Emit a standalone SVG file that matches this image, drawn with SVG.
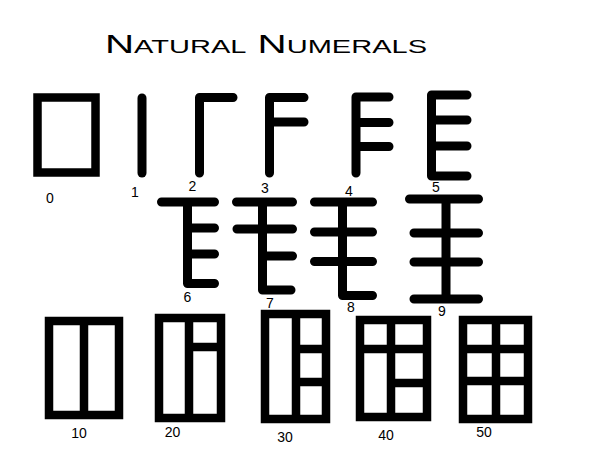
<svg xmlns="http://www.w3.org/2000/svg" width="591" height="453" viewBox="0 0 591 453">
<style>
.g{fill:none;stroke:#000;stroke-width:9;stroke-linecap:round;stroke-linejoin:round}
.b{fill:none;stroke:#000;stroke-width:8.5;stroke-linecap:butt;stroke-linejoin:miter}
.l{font-family:"Liberation Sans",Arial,sans-serif;font-size:14px;fill:#000;text-anchor:middle}
.t{font-family:"Liberation Sans",Arial,sans-serif;font-size:25px;font-variant:small-caps;fill:#000}
</style>
<rect width="591" height="453" fill="#fff"/>
<text class="t" x="105" y="53" textLength="322" lengthAdjust="spacingAndGlyphs">Natural Numerals</text>
<g id="n0"><rect class="b" x="37.5" y="97.5" width="58" height="75" stroke-width="9"/><text class="l" x="50" y="203">0</text></g>
<g id="n1"><path class="g" d="M142,98V173" stroke-width="8.5"/><text class="l" x="135" y="197">1</text></g>
<g id="n2"><path class="g" d="M199.5,173V97.5H233"/><text class="l" x="192.5" y="191">2</text></g>
<g id="n3"><path class="g" d="M269.5,173V97.5H304M269.5,122H304"/><text class="l" x="265" y="193">3</text></g>
<g id="n4"><path class="g" d="M356,173V97H389M356,122.5H389M356,146.5H389"/><text class="l" x="349" y="196">4</text></g>
<g id="n5"><path class="g" d="M467,95H431.5V176H467M431.5,120H467M431.5,146H467"/><text class="l" x="436" y="192">5</text></g>
<g id="n6"><path class="g" d="M161.5,202H214.5M187.5,202V283.5H214.5M187.5,228H214.5M187.5,254H214.5"/><text class="l" x="187.5" y="302">6</text></g>
<g id="n7"><path class="g" d="M236.5,202H292.5M262.5,202V290H291M237,229H292.5M262.5,256H292.5"/><text class="l" x="270" y="308">7</text></g>
<g id="n8"><path class="g" d="M314.5,202H372.5M314.5,232H372.5M314.5,261.5H372.5M342.5,202V295.5H372.5"/><text class="l" x="351" y="312">8</text></g>
<g id="n9"><path class="g" d="M446,199V299M409.5,199H478.5M414,233H478.5M414,262H478.5M414,299H478.5"/><text class="l" x="442" y="316">9</text></g>
<g id="n10"><path class="b" d="M49,321H119V415H49ZM84,321V415"/><text class="l" x="79" y="438">10</text></g>
<g id="n20"><path class="b" d="M159,318H221V418H159ZM189,318V418M189,347H221"/><text class="l" x="172.5" y="437">20</text></g>
<g id="n30"><path class="b" d="M265,314H326V419H265ZM296,314V419M296,349H326M296,382H326"/><text class="l" x="285" y="442">30</text></g>
<g id="n40"><path class="b" d="M360,320H427V417H360ZM391,320V417M360,349H427M391,383H427"/><text class="l" x="386" y="440">40</text></g>
<g id="n50"><path class="b" d="M463,320H528V419H463ZM496,320V419M463,349H528M463,381H528"/><text class="l" x="484" y="437">50</text></g>
</svg>
